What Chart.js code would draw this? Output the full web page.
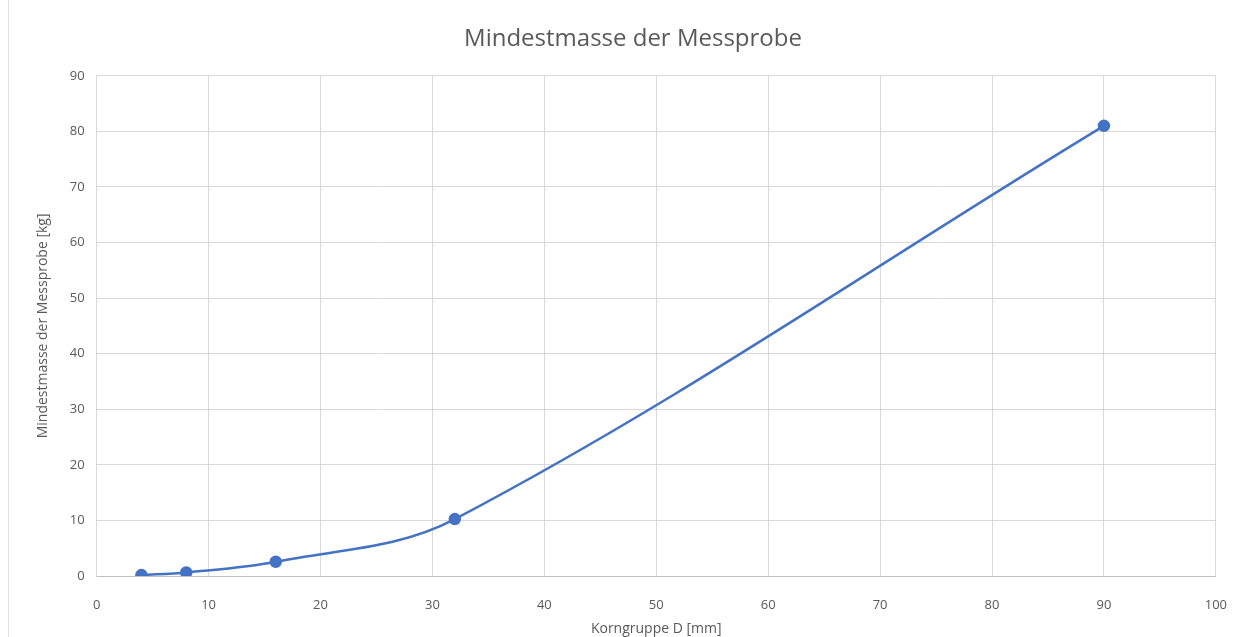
<!DOCTYPE html>
<html><head><meta charset="utf-8">
<script src="https://cdn.jsdelivr.net/npm/chart.js@4"></script>
<style>
html,body{margin:0;padding:0;background:#fff;}
#wrap{position:relative;width:1248px;height:637px;}
#edge{position:absolute;left:8px;top:0;width:1px;height:637px;background:#e3e3e3;}
canvas{position:absolute;left:0;top:0;}
</style></head>
<body><div id="wrap"><div id="edge"></div><canvas id="c" width="1248" height="637"></canvas></div>
<script>
const titleText = "Mindestmasse der Messprobe";
const xTitle = "Korngruppe D [mm]";
const yTitle = "Mindestmasse der Messprobe [kg]";
const kornD = [4, 8, 16, 32, 90];
const masse = [0.16, 0.64, 2.56, 10.24, 81];
const xMin = 0, xMax = 100, xStep = 10;
const yMin = 0, yMax = 90, yStep = 10;

const font = "'Open Sans', 'Liberation Sans', sans-serif";
new Chart(document.getElementById('c'), {
  type: 'line',
  data: { datasets: [{
    data: kornD.map((d, i) => ({x: d, y: masse[i]})),
    borderColor: '#4472C4', backgroundColor: '#4472C4',
    borderWidth: 2.5, pointRadius: 5, pointHoverRadius: 5,
    tension: 0.35, fill: false
  }]},
  options: {
    responsive: false, animation: false,
    layout: { padding: { left: 31, right: 13, top: 19, bottom: 0 } },
    plugins: {
      legend: { display: false }, tooltip: { enabled: false },
      title: { display: true, text: titleText, color: '#595959',
        font: { family: font, size: 24, weight: 'normal' }, padding: { top: 6, bottom: 22 } }
    },
    scales: {
      x: { type: 'linear', min: xMin, max: xMax,
        ticks: { stepSize: xStep, color: '#595959', font: { family: font, size: 13 }, padding: 21 },
        grid: { color: '#d9d9d9', drawTicks: false, lineWidth: 1 },
        border: { color: '#bfbfbf' },
        title: { display: true, text: xTitle, color: '#595959', font: { family: font, size: 14, lineHeight: 1.1 }, padding: { top: -12, bottom: 0 } } },
      y: { min: yMin, max: yMax,
        ticks: { stepSize: yStep, color: '#595959', font: { family: font, size: 13 }, padding: 12 },
        grid: { color: '#d9d9d9', drawTicks: false, lineWidth: 1 },
        border: { color: '#d9d9d9' },
        title: { display: true, text: yTitle, color: '#595959', font: { family: font, size: 14 }, padding: { bottom: 6 } } }
    }
  }
});
</script></body></html>
